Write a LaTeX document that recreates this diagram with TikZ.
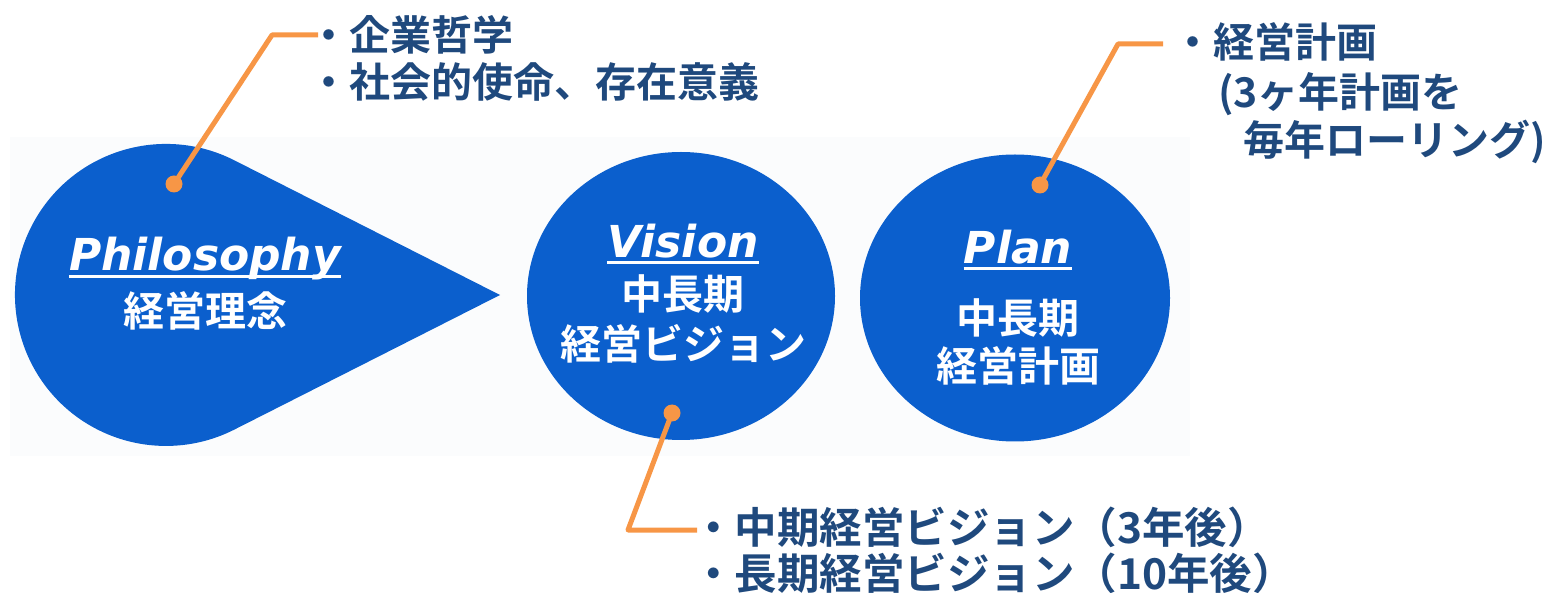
\documentclass[tikz,border=0pt]{standalone}
\usepackage{fontspec}
\usetikzlibrary{shapes.geometric}
\newfontfamily\jpb{Noto Sans CJK JP Bold}
\newfontfamily\latb{DejaVu Sans}
\definecolor{tblue}{HTML}{0B5FCD}
\definecolor{navy}{HTML}{1F497D}
\definecolor{corange}{HTML}{F79646}
\definecolor{bgc}{HTML}{FBFCFD}
\begin{document}
\begin{tikzpicture}[x=1pt,y=-1pt,
  jtxt/.style={font=\jpb\fontsize{41}{47}\selectfont, text=navy, inner sep=0pt, anchor=base west},
  jbig/.style={jtxt, font=\jpb\fontsize{42.5}{48}\selectfont},
  wtxt/.style={font=\jpb\fontsize{41}{47}\selectfont, text=white, inner sep=0pt, anchor=base},
  etxt/.style={font=\latb\bfseries\itshape\fontsize{44}{50}\selectfont, text=white, inner sep=0pt, anchor=base},
  uline/.style={white, line width=3pt},
  conn/.style={corange, line width=5pt, line join=round},
  cdot/.style={circle, fill=corange, inner sep=0pt, minimum size=17pt},
  bubble/.style={ellipse, fill=tblue, inner sep=0pt}]
\useasboundingbox (0,0) rectangle (1551,593);
\fill[bgc] (10,137) rectangle (1190,456);
% teardrop
\coordinate (tip) at (500,295);
\fill[tblue] (tip) -- (234.3,160.3) arc[start angle=-63.1, end angle=-296.9, radius=151] -- cycle;
% bubbles
\node[bubble, minimum width=308pt, minimum height=288pt] (vis) at (681,296) {};
\node[bubble, minimum width=310pt, minimum height=287pt] (plan) at (1015,298) {};
% white texts
\node[etxt] (phT) at (205,271) {Philosophy};
\draw[uline] ([yshift=-6pt]phT.base west) -- ([yshift=-6pt]phT.base east);
\node[wtxt] (phJ) at (205,327) {経営理念};
\node[etxt] (viT) at (683,258) {Vision};
\draw[uline] ([yshift=-5pt]viT.base west) -- ([yshift=-5pt]viT.base east);
\node[wtxt] (viJ1) at (683,310) {中長期};
\node[wtxt] (viJ2) at (683,360) {経営ビジョン};
\node[etxt] (plT) at (1018,264) {Plan};
\draw[uline] ([yshift=-5pt]plT.base west) -- ([yshift=-5pt]plT.base east);
\node[wtxt] (plJ1) at (1018,334) {中長期};
\node[wtxt] (plJ2) at (1018,382) {経営計画};
% callout texts
\node[jtxt] (c1a) at (308,51) {・企業哲学};
\node[jtxt] (c1b) at (308,98) {・社会的使命、存在意義};
\node[jtxt] (c2a) at (1172,58) {・経営計画};
\node[jtxt] (c2b) at (1218,108) {(3ヶ年計画を};
\node[jtxt] (c2c) at (1243,156) {毎年ローリング)};
\node[jbig] (c3a) at (692,543) {・中期経営ビジョン（3年後）};
\node[jbig] (c3b) at (692,589) {・長期経営ビジョン（10年後）};
% connectors
\node[cdot] (d1) at (174,184) {};
\coordinate (k1) at (272,35);
\coordinate (e1) at (318,35);
\draw[conn] (d1.center) -- (k1) -- (e1);
\node[cdot] (d2) at (1040,185) {};
\coordinate (k2) at (1118,44);
\coordinate (e2) at (1163,44);
\draw[conn] (d2.center) -- (k2) -- (e2);
\node[cdot] (d3) at (672,413) {};
\coordinate (k3) at (628,530);
\coordinate (e3) at (697,530);
\draw[conn] (d3.center) -- (k3) -- (e3);
\end{tikzpicture}
\end{document}
